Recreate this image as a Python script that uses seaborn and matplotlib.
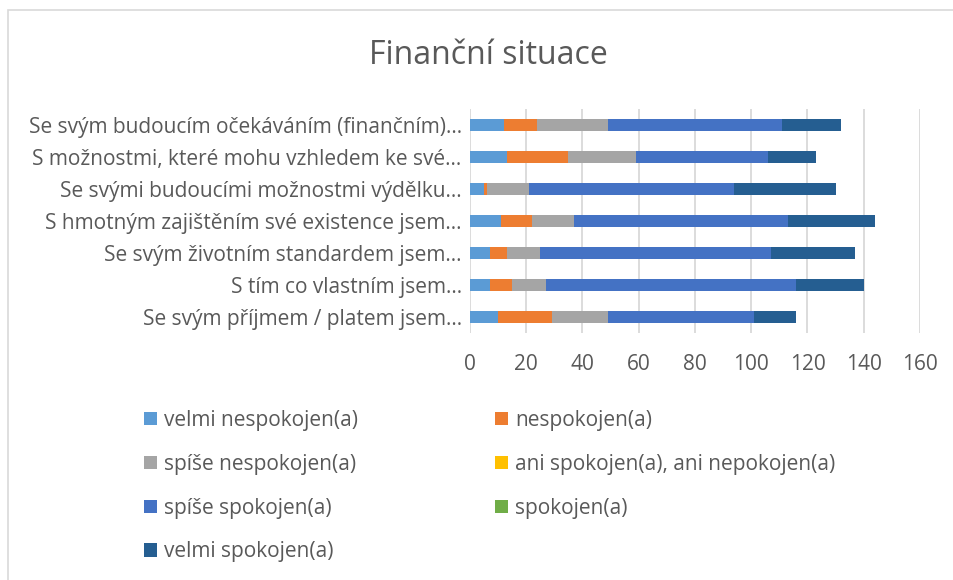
import numpy as np
import pandas as pd
import matplotlib
matplotlib.use("Agg")
import matplotlib.pyplot as plt
import seaborn as sb
from matplotlib.patches import Patch, Rectangle

### DATA
questions = [
    "Se svým budoucím očekáváním (finančním)...",
    "S možnostmi, které mohu vzhledem ke své...",
    "Se svými budoucími možnostmi výdělku...",
    "S hmotným zajištěním své existence jsem...",
    "Se svým životním standardem jsem...",
    "S tím co vlastním jsem...",
    "Se svým příjmem / platem jsem...",
]
levels = [
    "velmi nespokojen(a)",
    "nespokojen(a)",
    "spíše nespokojen(a)",
    "ani spokojen(a), ani nepokojen(a)",
    "spíše spokojen(a)",
    "spokojen(a)",
    "velmi spokojen(a)",
]
velmi_nespokojen = [12, 13, 5, 11, 7, 7, 10]
nespokojen = [12, 22, 1, 11, 6, 8, 19]
spise_nespokojen = [25, 24, 15, 15, 12, 12, 20]
ani_ani = [0, 0, 0, 0, 0, 0, 0]
spise_spokojen = [62, 47, 73, 76, 82, 89, 52]
spokojen = [0, 0, 0, 0, 0, 0, 0]
velmi_spokojen = [21, 17, 36, 31, 30, 24, 15]

colors = ["#5B9BD5", "#ED7D31", "#A5A5A5", "#FFC000", "#4472C4", "#70AD47", "#255E91"]
text_col = "#595959"

df = pd.DataFrame({
    "question": questions,
    levels[0]: velmi_nespokojen,
    levels[1]: nespokojen,
    levels[2]: spise_nespokojen,
    levels[3]: ani_ani,
    levels[4]: spise_spokojen,
    levels[5]: spokojen,
    levels[6]: velmi_spokojen,
})
cum = df[levels].cumsum(axis=1)

### PLOT
sb.set_style("white")
plt.rcParams["font.family"] = ["Open Sans", "DejaVu Sans"]

fig = plt.figure(figsize=(9.54, 5.8), dpi=100)
ax = fig.add_axes([470 / 954, 1 - 333 / 580, 450 / 954, 224 / 580])

# stacked bars: draw cumulative totals from the last level back to the first
for lvl, col in zip(levels[::-1], colors[::-1]):
    sb.barplot(x=cum[lvl], y=df["question"], color=col, width=0.4,
               orient="h", ax=ax, edgecolor="none", saturation=1)

ax.set_xlim(0, 160)
ax.set_ylim(6.5, -0.5)
ax.set_xticks(range(0, 161, 20))
ax.set_xlabel("")
ax.set_ylabel("")
ax.grid(axis="x", color="#D9D9D9", linewidth=1.3)
ax.set_axisbelow(True)
for s in ax.spines.values():
    s.set_visible(False)
ax.tick_params(axis="x", length=0, pad=15, labelsize=15, labelcolor=text_col)
ax.tick_params(axis="y", length=0, pad=6, labelsize=15, labelcolor=text_col)

fig.text(488 / 954, 1 - 55 / 580, "Finanční situace", ha="center", va="center",
         fontsize=23, color=text_col)

handles = [Patch(facecolor=c, edgecolor="none") for c in colors]
order = [0, 2, 4, 6, 1, 3, 5]
fig.legend([handles[i] for i in order], [levels[i] for i in order],
           ncol=2, loc="upper left", bbox_to_anchor=(125 / 954, 1 - 391 / 580),
           frameon=False, fontsize=15, labelcolor=text_col,
           handlelength=0.62, handleheight=0.62, handletextpad=0.34,
           labelspacing=1.1, columnspacing=6.6)

# chart area border (top/left visible)
fig.patches.append(Rectangle((8 / 954, -0.1), 1.1, 1 - 10 / 580 + 0.1,
                             transform=fig.transFigure, fill=False,
                             edgecolor="#D9D9D9", linewidth=1.2))

fig.savefig("out.png", dpi=100)
